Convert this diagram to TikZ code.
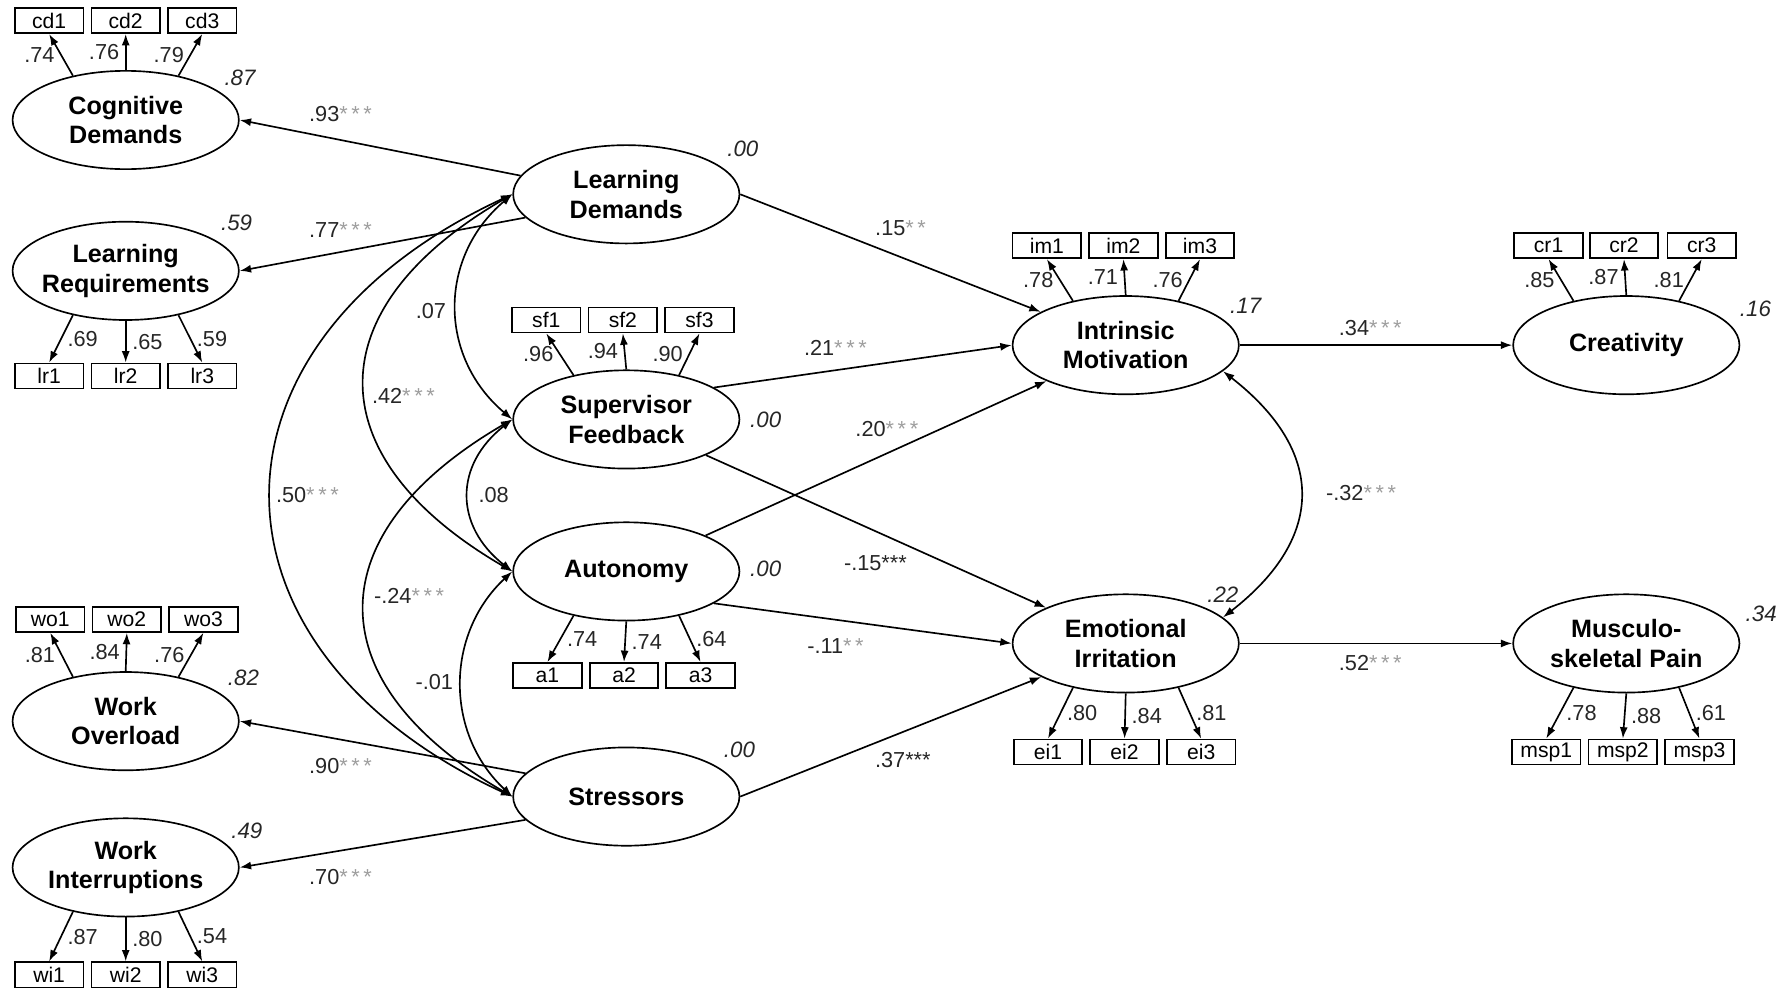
\documentclass[tikz,border=0pt]{standalone}
\usepackage{fontspec}
\setmainfont{Liberation Sans}
\usetikzlibrary{shapes.geometric,arrows.meta}
\newcommand{\sig}[1]{\textcolor{black!38}{#1}}

\begin{document}
\begin{tikzpicture}[x=1pt,y=-1pt,line width=1.45pt,
  >={Latex[length=10pt,width=7pt]},
  latent/.style={ellipse,draw,minimum width=198pt,minimum height=86pt,inner xsep=-10pt,inner ysep=0pt,align=center,font=\fontsize{22}{26}\selectfont\bfseries},
  ind/.style={rectangle,draw,minimum width=60pt,minimum height=22pt,inner sep=0pt,font=\fontsize{18.5}{20}\selectfont},
  coef/.style={font=\fontsize{19}{21}\selectfont,inner sep=1pt,text=black!85},
  rsq/.style={font=\fontsize{19.5}{21}\selectfont\itshape,inner sep=1pt,text=black!85}]
\useasboundingbox (0,0) rectangle (1568,865);

% latent variables
\node[latent] (cd) at (110,105) {Cognitive\\Demands};
\node[latent] (lr) at (110,237) {Learning\\Requirements};
\node[latent] (wo) at (110,631) {Work\\Overload};
\node[latent] (wi) at (110,759) {Work\\Interruptions};
\node[latent] (ld) at (548,170) {Learning\\Demands};
\node[latent] (sf) at (548,367) {Supervisor\\Feedback};
\node[latent] (au) at (548,500) {Autonomy};
\node[latent] (st) at (548,697) {Stressors};
\node[latent] (im) at (985,302) {Intrinsic\\Motivation};
\node[latent] (ei) at (985,563) {Emotional\\Irritation};
\node[latent] (cr) at (1423,302) {Creativity};
\node[latent] (msp) at (1423,563) {Musculo-\\skeletal Pain};

% indicators
\node[ind] (cd1) at (43,18) {cd1};   \node[ind] (cd2) at (110,18) {cd2};  \node[ind] (cd3) at (177,18) {cd3};
\node[ind] (lr1) at (43,329) {lr1};  \node[ind] (lr2) at (110,329) {lr2}; \node[ind] (lr3) at (177,329) {lr3};
\node[ind] (wo1) at (44,542) {wo1};  \node[ind] (wo2) at (111,542) {wo2}; \node[ind] (wo3) at (178,542) {wo3};
\node[ind] (wi1) at (43,853) {wi1};  \node[ind] (wi2) at (110,853) {wi2}; \node[ind] (wi3) at (177,853) {wi3};
\node[ind] (sf1) at (478,280) {sf1}; \node[ind] (sf2) at (545,280) {sf2}; \node[ind] (sf3) at (612,280) {sf3};
\node[ind] (a1) at (479,591) {a1};   \node[ind] (a2) at (546,591) {a2};   \node[ind] (a3) at (613,591) {a3};
\node[ind] (im1) at (916,215) {im1}; \node[ind] (im2) at (983,215) {im2}; \node[ind] (im3) at (1050,215) {im3};
\node[ind] (ei1) at (917,658) {ei1}; \node[ind] (ei2) at (984,658) {ei2}; \node[ind] (ei3) at (1051,658) {ei3};
\node[ind] (cr1) at (1355,215) {cr1}; \node[ind] (cr2) at (1421,215) {cr2}; \node[ind] (cr3) at (1489,215) {cr3};
\node[ind] (msp1) at (1353,658) {msp1}; \node[ind] (msp2) at (1420,658) {msp2}; \node[ind] (msp3) at (1487,658) {msp3};

% loadings
\draw[->] (cd.140) -- node[coef,left=4pt] {.74} (cd1.south);
\draw[->] (cd.north) -- node[coef,left=4pt] {.76} (cd2.south);
\draw[->] (cd.40) -- node[coef,left=4pt] {.79} (cd3.south);
\draw[->] (lr.220) -- node[coef,right=4pt] {.69} (lr1.north);
\draw[->] (lr.south) -- node[coef,right=4pt] {.65} (lr2.north);
\draw[->] (lr.320) -- node[coef,right=4pt] {.59} (lr3.north);
\draw[->] (wo.140) -- node[coef,left=4pt] {.81} (wo1.south);
\draw[->] (wo.north) -- node[coef,left=4pt] {.84} (wo2.south);
\draw[->] (wo.40) -- node[coef,left=4pt] {.76} (wo3.south);
\draw[->] (wi.220) -- node[coef,right=4pt] {.87} (wi1.north);
\draw[->] (wi.south) -- node[coef,right=4pt] {.80} (wi2.north);
\draw[->] (wi.320) -- node[coef,right=4pt] {.54} (wi3.north);
\draw[->] (sf.140) -- node[coef,left=4pt] {.96} (sf1.south);
\draw[->] (sf.north) -- node[coef,left=4pt] {.94} (sf2.south);
\draw[->] (sf.40) -- node[coef,left=4pt] {.90} (sf3.south);
\draw[->] (au.220) -- node[coef,right=4pt] {.74} (a1.north);
\draw[->] (au.south) -- node[coef,right=4pt] {.74} (a2.north);
\draw[->] (au.320) -- node[coef,right=4pt] {.64} (a3.north);
\draw[->] (im.140) -- node[coef,left=4pt] {.78} (im1.south);
\draw[->] (im.north) -- node[coef,left=4pt] {.71} (im2.south);
\draw[->] (im.40) -- node[coef,left=4pt] {.76} (im3.south);
\draw[->] (ei.220) -- node[coef,right=4pt] {.80} (ei1.north);
\draw[->] (ei.south) -- node[coef,right=4pt] {.84} (ei2.north);
\draw[->] (ei.320) -- node[coef,right=4pt] {.81} (ei3.north);
\draw[->] (cr.140) -- node[coef,left=4pt] {.85} (cr1.south);
\draw[->] (cr.north) -- node[coef,left=4pt] {.87} (cr2.south);
\draw[->] (cr.40) -- node[coef,left=4pt] {.81} (cr3.south);
\draw[->] (msp.220) -- node[coef,right=4pt] {.78} (msp1.north);
\draw[->] (msp.south) -- node[coef,right=4pt] {.88} (msp2.north);
\draw[->] (msp.320) -- node[coef,right=4pt] {.61} (msp3.north);

% second order
\draw[->] (ld.170) -- (cd.east);
\draw[->] (ld.193) -- (lr.east);
\draw[->] (st.167) -- (wo.east);
\draw[->] (st.193) -- (wi.east);
\node[coef] (p93) at (298,100) {.93\sig{*\,*\,*}};
\node[coef] (p77) at (298,201) {.77\sig{*\,*\,*}};
\node[coef] (p90) at (298,670) {.90\sig{*\,*\,*}};
\node[coef] (p70) at (298,767) {.70\sig{*\,*\,*}};

% covariances
\draw[<->] (ld.west) .. controls +(-65,55) and +(-65,-55) .. (sf.west);
\draw[<->] (sf.west) .. controls +(-51,40) and +(-51,-40) .. (au.west);
\draw[<->] (au.west) .. controls +(-59,55) and +(-59,-55) .. (st.west);
\draw[<->] (ld.west) .. controls +(-172,100) and +(-172,-100) .. (au.west);
\draw[<->] (sf.west) .. controls +(-172,100) and +(-172,-100) .. (st.west);
\draw[<->] (ld.west) .. controls +(-281,130) and +(-281,-130) .. (st.west);
\node[coef] (c07) at (377,272) {.07};
\node[coef] (c08) at (432,433) {.08};
\node[coef] (c01) at (380,597) {-.01};
\node[coef] (c42) at (353,346) {.42\sig{*\,*\,*}};
\node[coef] (c24) at (358,521) {-.24\sig{*\,*\,*}};
\node[coef] (c50) at (269,433) {.50\sig{*\,*\,*}};

% structural paths
\draw[->] (ld.east) -- (im);
\draw[->] (sf.20) -- (im.west);
\draw[->] (au) -- (im);
\draw[->] (sf) -- (ei);
\draw[->] (au.-20) -- (ei.west);
\draw[->] (st.east) -- (ei);
\draw[->] (im) -- (cr);
\draw[->] (ei) -- (msp);
\draw[<->] (im.-15) .. controls +(90,70) and +(90,-70) .. (ei.15);
\node[coef] (b15) at (788,200) {.15\sig{*\,*}};
\node[coef] (b21) at (731,304) {.21\sig{*\,*\,*}};
\node[coef] (b20) at (776,375) {.20\sig{*\,*\,*}};
\node[coef] (b15n) at (766,493) {-.15***};
\node[coef] (b11) at (731,565) {-.11\sig{*\,*}};
\node[coef] (b37) at (790,665) {.37***};
\node[coef] (b34) at (1199,287) {.34\sig{*\,*\,*}};
\node[coef] (b52) at (1199,580) {.52\sig{*\,*\,*}};
\node[coef] (b32) at (1191,431) {-.32\sig{*\,*\,*}};

% explained variance
\node[rsq] (r2cd) at (210,68) {.87};
\node[rsq] (r2lr) at (207,195) {.59};
\node[rsq] (r2wo) at (213,593) {.82};
\node[rsq] (r2wi) at (216,727) {.49};
\node[rsq] (r2ld) at (650,130) {.00};
\node[rsq] (r2sf) at (670,367) {.00};
\node[rsq] (r2au) at (670,498) {.00};
\node[rsq] (r2st) at (647,656) {.00};
\node[rsq] (r2im) at (1090,268) {.17};
\node[rsq] (r2ei) at (1070,520) {.22};
\node[rsq] (r2cr) at (1536,270) {.16};
\node[rsq] (r2msp) at (1541,537) {.34};
\end{tikzpicture}
\end{document}
